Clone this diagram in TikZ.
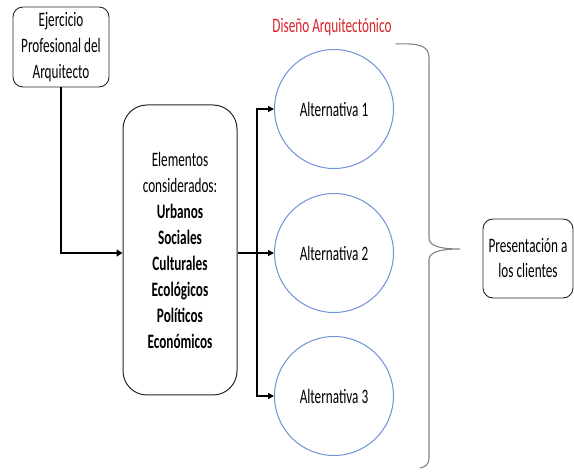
\documentclass[tikz,border=0pt]{standalone}
\usepackage{fontspec}
\setmainfont{Carlito}[FakeStretch=0.645]
\usetikzlibrary{arrows.meta}
\definecolor{circblue}{RGB}{110,145,215}
\definecolor{titred}{RGB}{215,35,40}
\definecolor{bracegray}{RGB}{130,130,130}
\tikzset{
  rbox/.style={draw=black!85, line width=0.9pt, rounded corners=10pt, align=center, inner sep=0pt, font=\fontsize{20.5}{26}\selectfont},
  bigbox/.style={draw=black!85, line width=1pt, rounded corners=24pt, align=center, inner sep=0pt, font=\fontsize{20.5}{26}\selectfont},
  alt/.style={draw=circblue, line width=1pt, circle, minimum size=119pt, inner sep=0pt, font=\fontsize{20.5}{26}\selectfont},
  conn/.style={line width=1.4pt, -{Triangle[length=6pt,width=6pt]}},
  thickconn/.style={line width=2.6pt, -{Triangle[length=6pt,width=7pt]}},
}
\begin{document}
\begin{tikzpicture}[x=1pt,y=-1pt]
\useasboundingbox (0,0) rectangle (574,473);
\node[rbox, minimum width=96pt, minimum height=80pt] (ej) at (61,47) {Ejercicio\\Profesional del\\Arquitecto};
\node[bigbox, minimum width=114pt, minimum height=290pt] (el) at (180,250) {Elementos\\considerados:\\\textbf{Urbanos}\\\textbf{Sociales}\\\textbf{Culturales}\\\textbf{Ecológicos}\\\textbf{Políticos}\\\textbf{Económicos}};
\node[alt] (c1) at (334,109) {Alternativa 1};
\node[alt] (c2) at (334,253) {Alternativa 2};
\node[alt] (c3) at (334,396) {Alternativa 3};
\node[font=\fontsize{20.5}{26}\selectfont, text=titred] (tit) at (332,27) {Diseño Arquitectónico};
\node[rbox, minimum width=90pt, minimum height=79pt, font=\fontsize{20.5}{25}\selectfont] (pr) at (528,258.5) {Presentación a\\los clientes};
\coordinate (j) at (257,253);
\draw[thickconn] (ej.south) |- (el.west |- c2);
\draw[line width=1.4pt] (el.east |- c2) -- (j);
\draw[conn] (j) -- (c2.west);
\draw[conn] (j) |- (c1.west);
\draw[conn] (j) |- (c3.west);
% brace
\draw[bracegray, line width=1.1pt] (396,44) .. controls (420,43) and (429,46) .. (429,58)
  -- (429,238) .. controls (429,246) and (440,249) .. (460,249)
  .. controls (440,249) and (429,252) .. (429,260)
  -- (429,458) .. controls (429,464) and (426,467) .. (420,468);
\end{tikzpicture}
\end{document}
